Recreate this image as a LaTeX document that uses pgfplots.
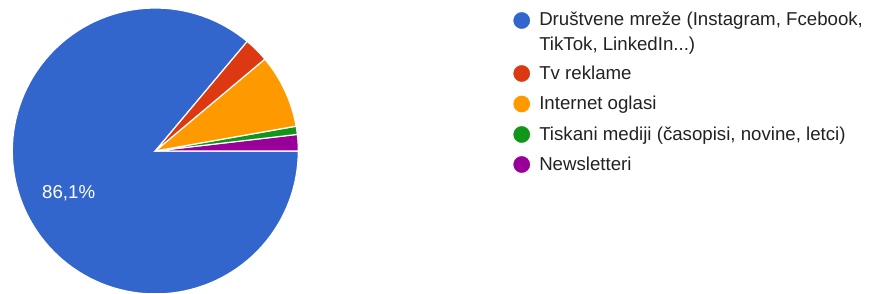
\documentclass[border=0pt]{standalone}
\usepackage{pgfplots}
\pgfplotsset{compat=1.18}
\usepackage{pgfplotstable}
\usepackage{fontspec}
\setmainfont{Liberation Sans}
\definecolor{cBlue}{HTML}{3366CC}
\definecolor{cRed}{HTML}{DC3912}
\definecolor{cOrange}{HTML}{FF9900}
\definecolor{cGreen}{HTML}{109618}
\definecolor{cPurple}{HTML}{990099}
\definecolor{txt}{HTML}{222222}

% counts, in drawing order (counter-clockwise from 3 o'clock)
\pgfplotstableread{
label count
newsletteri 2
tiskani 1
internet 9
tv 3
mreze 93
}\datatable

\begin{document}
\begin{tikzpicture}
\pgfplotstablegetelem{0}{count}\of\datatable \let\cNews\pgfplotsretval
\pgfplotstablegetelem{1}{count}\of\datatable \let\cTisk\pgfplotsretval
\pgfplotstablegetelem{2}{count}\of\datatable \let\cInt\pgfplotsretval
\pgfplotstablegetelem{3}{count}\of\datatable \let\cTv\pgfplotsretval
\pgfplotstablegetelem{4}{count}\of\datatable \let\cMr\pgfplotsretval
\pgfmathsetmacro\tot{\cNews+\cTisk+\cInt+\cTv+\cMr}
\pgfmathsetmacro\aA{0}
\pgfmathsetmacro\aB{\aA+360*\cNews/\tot}
\pgfmathsetmacro\aC{\aB+360*\cTisk/\tot}
\pgfmathsetmacro\aD{\aC+360*\cInt/\tot}
\pgfmathsetmacro\aE{\aD+360*\cTv/\tot}
\pgfmathsetmacro\aF{360}
\def\cx{155.3}\def\cy{142}\def\R{143}
\begin{axis}[width=656.25pt, height=219.75pt, scale only axis,
  xmin=0, xmax=875, ymin=0, ymax=293, hide axis, clip=true,
  every axis plot/.append style={line width=0.9pt, draw=white}]
\addplot[fill=cBlue, domain=\aE:\aF, samples=120, variable=\t]
  ({\cx+\R*cos(\t)},{\cy+\R*sin(\t)}) -- (axis cs:\cx,\cy) -- cycle;
\addplot[fill=cPurple, domain=\aA:\aB, samples=6, variable=\t]
  ({\cx+\R*cos(\t)},{\cy+\R*sin(\t)}) -- (axis cs:\cx,\cy) -- cycle;
\addplot[fill=cGreen, domain=\aB:\aC, samples=4, variable=\t]
  ({\cx+\R*cos(\t)},{\cy+\R*sin(\t)}) -- (axis cs:\cx,\cy) -- cycle;
\addplot[fill=cOrange, domain=\aC:\aD, samples=20, variable=\t]
  ({\cx+\R*cos(\t)},{\cy+\R*sin(\t)}) -- (axis cs:\cx,\cy) -- cycle;
\addplot[fill=cRed, domain=\aD:\aE, samples=8, variable=\t]
  ({\cx+\R*cos(\t)},{\cy+\R*sin(\t)}) -- (axis cs:\cx,\cy) -- cycle;
% legend markers
\addplot[only marks, mark=*, mark size=6.8pt, draw=none, fill=cBlue, mark options={draw=none}] coordinates {(521.7,272.5)};
\addplot[only marks, mark=*, mark size=6.8pt, draw=none, fill=cRed, mark options={draw=none}] coordinates {(521.7,219.5)};
\addplot[only marks, mark=*, mark size=6.8pt, draw=none, fill=cOrange, mark options={draw=none}] coordinates {(521.7,189)};
\addplot[only marks, mark=*, mark size=6.8pt, draw=none, fill=cGreen, mark options={draw=none}] coordinates {(521.7,158.5)};
\addplot[only marks, mark=*, mark size=6.8pt, draw=none, fill=cPurple, mark options={draw=none}] coordinates {(521.7,128.5)};
\end{axis}
\begin{scope}[x=0.75pt, y=0.75pt, every node/.style={inner sep=0pt, text=txt, font=\fontsize{14pt}{16pt}\selectfont}]
\node[anchor=base west] at (539,267) {Društvene mreže (Instagram, Fcebook,};
\node[anchor=base west] at (539,242) {TikTok, LinkedIn...)};
\node[anchor=base west] at (539,213.5) {Tv reklame};
\node[anchor=base west] at (539,183) {Internet oglasi};
\node[anchor=base west] at (539,152.5) {Tiskani mediji (časopisi, novine, letci)};
\node[anchor=base west] at (539,122.5) {Newsletteri};
\node[text=white] at (68.7,100.3) {86,1\%};
\end{scope}
\pgfresetboundingbox
\path (0,0) rectangle (656.25pt,219.75pt);
\end{tikzpicture}
\end{document}
